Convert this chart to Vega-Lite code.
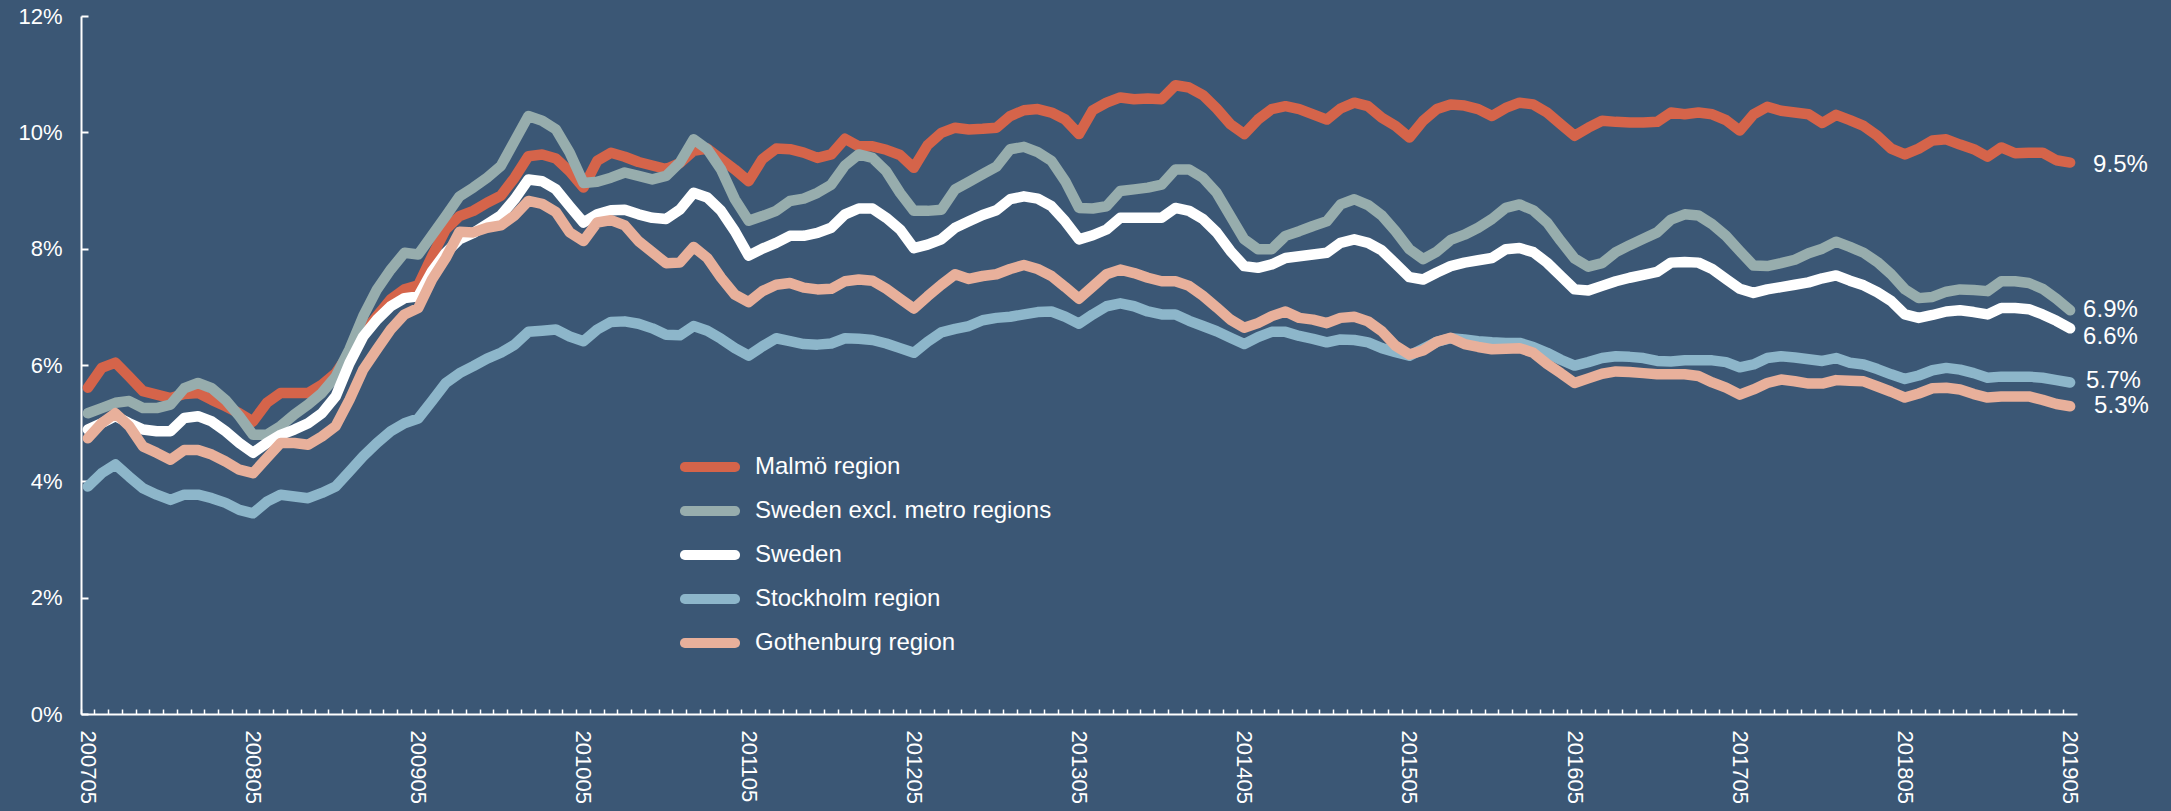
{
"$schema":"https://vega.github.io/schema/vega-lite/v6.json",
"width":1996,"height":698,
"autosize":{"type":"none"},
"padding":{"left":81,"top":16,"right":94,"bottom":97},
"background":"#3B5775",
"config":{"view":{"stroke":null},"font":"Liberation Sans"},
"data":{"values":[
{"m":"200705","s":"Malmö region","v":0.0561},{"m":"200706","s":"Malmö region","v":0.0595},{"m":"200707","s":"Malmö region","v":0.0604},{"m":"200708","s":"Malmö region","v":0.058},{"m":"200709","s":"Malmö region","v":0.0555},{"m":"200710","s":"Malmö region","v":0.0549},{"m":"200711","s":"Malmö region","v":0.0543},{"m":"200712","s":"Malmö region","v":0.055},
{"m":"200801","s":"Malmö region","v":0.0552},{"m":"200802","s":"Malmö region","v":0.054},{"m":"200803","s":"Malmö region","v":0.0529},{"m":"200804","s":"Malmö region","v":0.0517},{"m":"200805","s":"Malmö region","v":0.0503},{"m":"200806","s":"Malmö region","v":0.0535},{"m":"200807","s":"Malmö region","v":0.0552},{"m":"200808","s":"Malmö region","v":0.0552},{"m":"200809","s":"Malmö region","v":0.0552},{"m":"200810","s":"Malmö region","v":0.0566},{"m":"200811","s":"Malmö region","v":0.0586},{"m":"200812","s":"Malmö region","v":0.062},
{"m":"200901","s":"Malmö region","v":0.0655},{"m":"200902","s":"Malmö region","v":0.0684},{"m":"200903","s":"Malmö region","v":0.0713},{"m":"200904","s":"Malmö region","v":0.073},{"m":"200905","s":"Malmö region","v":0.0737},{"m":"200906","s":"Malmö region","v":0.0787},{"m":"200907","s":"Malmö region","v":0.0833},{"m":"200908","s":"Malmö region","v":0.0856},{"m":"200909","s":"Malmö region","v":0.0865},{"m":"200910","s":"Malmö region","v":0.0879},{"m":"200911","s":"Malmö region","v":0.0891},{"m":"200912","s":"Malmö region","v":0.0922},
{"m":"201001","s":"Malmö region","v":0.0959},{"m":"201002","s":"Malmö region","v":0.0962},{"m":"201003","s":"Malmö region","v":0.0955},{"m":"201004","s":"Malmö region","v":0.0933},{"m":"201005","s":"Malmö region","v":0.0905},{"m":"201006","s":"Malmö region","v":0.0951},{"m":"201007","s":"Malmö region","v":0.0965},{"m":"201008","s":"Malmö region","v":0.0958},{"m":"201009","s":"Malmö region","v":0.0949},{"m":"201010","s":"Malmö region","v":0.0943},{"m":"201011","s":"Malmö region","v":0.0937},{"m":"201012","s":"Malmö region","v":0.0947},
{"m":"201101","s":"Malmö region","v":0.0968},{"m":"201102","s":"Malmö region","v":0.0972},{"m":"201103","s":"Malmö region","v":0.0954},{"m":"201104","s":"Malmö region","v":0.0936},{"m":"201105","s":"Malmö region","v":0.0916},{"m":"201106","s":"Malmö region","v":0.0954},{"m":"201107","s":"Malmö region","v":0.0972},{"m":"201108","s":"Malmö region","v":0.0971},{"m":"201109","s":"Malmö region","v":0.0965},{"m":"201110","s":"Malmö region","v":0.0956},{"m":"201111","s":"Malmö region","v":0.0962},{"m":"201112","s":"Malmö region","v":0.0989},
{"m":"201201","s":"Malmö region","v":0.0976},{"m":"201202","s":"Malmö region","v":0.0976},{"m":"201203","s":"Malmö region","v":0.097},{"m":"201204","s":"Malmö region","v":0.0961},{"m":"201205","s":"Malmö region","v":0.0939},{"m":"201206","s":"Malmö region","v":0.0978},{"m":"201207","s":"Malmö region","v":0.0999},{"m":"201208","s":"Malmö region","v":0.1008},{"m":"201209","s":"Malmö region","v":0.1005},{"m":"201210","s":"Malmö region","v":0.1006},{"m":"201211","s":"Malmö region","v":0.1008},{"m":"201212","s":"Malmö region","v":0.1028},
{"m":"201301","s":"Malmö region","v":0.1038},{"m":"201302","s":"Malmö region","v":0.104},{"m":"201303","s":"Malmö region","v":0.1034},{"m":"201304","s":"Malmö region","v":0.1022},{"m":"201305","s":"Malmö region","v":0.0997},{"m":"201306","s":"Malmö region","v":0.1038},{"m":"201307","s":"Malmö region","v":0.1051},{"m":"201308","s":"Malmö region","v":0.106},{"m":"201309","s":"Malmö region","v":0.1057},{"m":"201310","s":"Malmö region","v":0.1058},{"m":"201311","s":"Malmö region","v":0.1057},{"m":"201312","s":"Malmö region","v":0.1081},
{"m":"201401","s":"Malmö region","v":0.1077},{"m":"201402","s":"Malmö region","v":0.1064},{"m":"201403","s":"Malmö region","v":0.1041},{"m":"201404","s":"Malmö region","v":0.1014},{"m":"201405","s":"Malmö region","v":0.0997},{"m":"201406","s":"Malmö region","v":0.1022},{"m":"201407","s":"Malmö region","v":0.104},{"m":"201408","s":"Malmö region","v":0.1045},{"m":"201409","s":"Malmö region","v":0.104},{"m":"201410","s":"Malmö region","v":0.1031},{"m":"201411","s":"Malmö region","v":0.1022},{"m":"201412","s":"Malmö region","v":0.1041},
{"m":"201501","s":"Malmö region","v":0.1051},{"m":"201502","s":"Malmö region","v":0.1045},{"m":"201503","s":"Malmö region","v":0.1025},{"m":"201504","s":"Malmö region","v":0.1011},{"m":"201505","s":"Malmö region","v":0.0991},{"m":"201506","s":"Malmö region","v":0.102},{"m":"201507","s":"Malmö region","v":0.104},{"m":"201508","s":"Malmö region","v":0.1048},{"m":"201509","s":"Malmö region","v":0.1046},{"m":"201510","s":"Malmö region","v":0.104},{"m":"201511","s":"Malmö region","v":0.1028},{"m":"201512","s":"Malmö region","v":0.1042},
{"m":"201601","s":"Malmö region","v":0.1051},{"m":"201602","s":"Malmö region","v":0.1048},{"m":"201603","s":"Malmö region","v":0.1034},{"m":"201604","s":"Malmö region","v":0.1014},{"m":"201605","s":"Malmö region","v":0.0994},{"m":"201606","s":"Malmö region","v":0.1008},{"m":"201607","s":"Malmö region","v":0.102},{"m":"201608","s":"Malmö region","v":0.1018},{"m":"201609","s":"Malmö region","v":0.1017},{"m":"201610","s":"Malmö region","v":0.1017},{"m":"201611","s":"Malmö region","v":0.1018},{"m":"201612","s":"Malmö region","v":0.1034},
{"m":"201701","s":"Malmö region","v":0.1031},{"m":"201702","s":"Malmö region","v":0.1034},{"m":"201703","s":"Malmö region","v":0.1031},{"m":"201704","s":"Malmö region","v":0.1021},{"m":"201705","s":"Malmö region","v":0.1003},{"m":"201706","s":"Malmö region","v":0.1031},{"m":"201707","s":"Malmö region","v":0.1044},{"m":"201708","s":"Malmö region","v":0.1037},{"m":"201709","s":"Malmö region","v":0.1034},{"m":"201710","s":"Malmö region","v":0.1031},{"m":"201711","s":"Malmö region","v":0.1016},{"m":"201712","s":"Malmö region","v":0.103},
{"m":"201801","s":"Malmö region","v":0.1021},{"m":"201802","s":"Malmö region","v":0.1011},{"m":"201803","s":"Malmö region","v":0.0994},{"m":"201804","s":"Malmö region","v":0.0972},{"m":"201805","s":"Malmö region","v":0.0962},{"m":"201806","s":"Malmö region","v":0.0972},{"m":"201807","s":"Malmö region","v":0.0986},{"m":"201808","s":"Malmö region","v":0.0988},{"m":"201809","s":"Malmö region","v":0.0979},{"m":"201810","s":"Malmö region","v":0.0971},{"m":"201811","s":"Malmö region","v":0.0958},{"m":"201812","s":"Malmö region","v":0.0974},
{"m":"201901","s":"Malmö region","v":0.0964},{"m":"201902","s":"Malmö region","v":0.0965},{"m":"201903","s":"Malmö region","v":0.0965},{"m":"201904","s":"Malmö region","v":0.0952},{"m":"201905","s":"Malmö region","v":0.0948},

{"m":"200705","s":"Sweden excl. metro regions","v":0.0517},{"m":"200706","s":"Sweden excl. metro regions","v":0.0526},{"m":"200707","s":"Sweden excl. metro regions","v":0.0535},{"m":"200708","s":"Sweden excl. metro regions","v":0.0538},{"m":"200709","s":"Sweden excl. metro regions","v":0.0526},{"m":"200710","s":"Sweden excl. metro regions","v":0.0526},{"m":"200711","s":"Sweden excl. metro regions","v":0.0532},{"m":"200712","s":"Sweden excl. metro regions","v":0.056},
{"m":"200801","s":"Sweden excl. metro regions","v":0.0569},{"m":"200802","s":"Sweden excl. metro regions","v":0.056},{"m":"200803","s":"Sweden excl. metro regions","v":0.054},{"m":"200804","s":"Sweden excl. metro regions","v":0.0512},{"m":"200805","s":"Sweden excl. metro regions","v":0.048},{"m":"200806","s":"Sweden excl. metro regions","v":0.048},{"m":"200807","s":"Sweden excl. metro regions","v":0.0495},{"m":"200808","s":"Sweden excl. metro regions","v":0.0515},{"m":"200809","s":"Sweden excl. metro regions","v":0.0532},{"m":"200810","s":"Sweden excl. metro regions","v":0.0552},{"m":"200811","s":"Sweden excl. metro regions","v":0.058},{"m":"200812","s":"Sweden excl. metro regions","v":0.0627},
{"m":"200901","s":"Sweden excl. metro regions","v":0.0684},{"m":"200902","s":"Sweden excl. metro regions","v":0.073},{"m":"200903","s":"Sweden excl. metro regions","v":0.0764},{"m":"200904","s":"Sweden excl. metro regions","v":0.0793},{"m":"200905","s":"Sweden excl. metro regions","v":0.079},{"m":"200906","s":"Sweden excl. metro regions","v":0.0823},{"m":"200907","s":"Sweden excl. metro regions","v":0.0856},{"m":"200908","s":"Sweden excl. metro regions","v":0.089},{"m":"200909","s":"Sweden excl. metro regions","v":0.0905},{"m":"200910","s":"Sweden excl. metro regions","v":0.0922},{"m":"200911","s":"Sweden excl. metro regions","v":0.0942},{"m":"200912","s":"Sweden excl. metro regions","v":0.0985},
{"m":"201001","s":"Sweden excl. metro regions","v":0.1028},{"m":"201002","s":"Sweden excl. metro regions","v":0.102},{"m":"201003","s":"Sweden excl. metro regions","v":0.1005},{"m":"201004","s":"Sweden excl. metro regions","v":0.0965},{"m":"201005","s":"Sweden excl. metro regions","v":0.0913},{"m":"201006","s":"Sweden excl. metro regions","v":0.0915},{"m":"201007","s":"Sweden excl. metro regions","v":0.0922},{"m":"201008","s":"Sweden excl. metro regions","v":0.0931},{"m":"201009","s":"Sweden excl. metro regions","v":0.0925},{"m":"201010","s":"Sweden excl. metro regions","v":0.0919},{"m":"201011","s":"Sweden excl. metro regions","v":0.0925},{"m":"201012","s":"Sweden excl. metro regions","v":0.0948},
{"m":"201101","s":"Sweden excl. metro regions","v":0.0988},{"m":"201102","s":"Sweden excl. metro regions","v":0.0971},{"m":"201103","s":"Sweden excl. metro regions","v":0.0936},{"m":"201104","s":"Sweden excl. metro regions","v":0.0885},{"m":"201105","s":"Sweden excl. metro regions","v":0.0848},{"m":"201106","s":"Sweden excl. metro regions","v":0.0856},{"m":"201107","s":"Sweden excl. metro regions","v":0.0865},{"m":"201108","s":"Sweden excl. metro regions","v":0.0882},{"m":"201109","s":"Sweden excl. metro regions","v":0.0886},{"m":"201110","s":"Sweden excl. metro regions","v":0.0896},{"m":"201111","s":"Sweden excl. metro regions","v":0.091},{"m":"201112","s":"Sweden excl. metro regions","v":0.0943},
{"m":"201201","s":"Sweden excl. metro regions","v":0.0962},{"m":"201202","s":"Sweden excl. metro regions","v":0.0956},{"m":"201203","s":"Sweden excl. metro regions","v":0.0933},{"m":"201204","s":"Sweden excl. metro regions","v":0.0896},{"m":"201205","s":"Sweden excl. metro regions","v":0.0865},{"m":"201206","s":"Sweden excl. metro regions","v":0.0865},{"m":"201207","s":"Sweden excl. metro regions","v":0.0867},{"m":"201208","s":"Sweden excl. metro regions","v":0.0902},{"m":"201209","s":"Sweden excl. metro regions","v":0.0915},{"m":"201210","s":"Sweden excl. metro regions","v":0.0928},{"m":"201211","s":"Sweden excl. metro regions","v":0.0941},{"m":"201212","s":"Sweden excl. metro regions","v":0.0971},
{"m":"201301","s":"Sweden excl. metro regions","v":0.0975},{"m":"201302","s":"Sweden excl. metro regions","v":0.0966},{"m":"201303","s":"Sweden excl. metro regions","v":0.0951},{"m":"201304","s":"Sweden excl. metro regions","v":0.0916},{"m":"201305","s":"Sweden excl. metro regions","v":0.087},{"m":"201306","s":"Sweden excl. metro regions","v":0.0869},{"m":"201307","s":"Sweden excl. metro regions","v":0.0873},{"m":"201308","s":"Sweden excl. metro regions","v":0.0899},{"m":"201309","s":"Sweden excl. metro regions","v":0.0902},{"m":"201310","s":"Sweden excl. metro regions","v":0.0905},{"m":"201311","s":"Sweden excl. metro regions","v":0.091},{"m":"201312","s":"Sweden excl. metro regions","v":0.0936},
{"m":"201401","s":"Sweden excl. metro regions","v":0.0936},{"m":"201402","s":"Sweden excl. metro regions","v":0.0922},{"m":"201403","s":"Sweden excl. metro regions","v":0.0896},{"m":"201404","s":"Sweden excl. metro regions","v":0.0856},{"m":"201405","s":"Sweden excl. metro regions","v":0.0816},{"m":"201406","s":"Sweden excl. metro regions","v":0.0799},{"m":"201407","s":"Sweden excl. metro regions","v":0.0799},{"m":"201408","s":"Sweden excl. metro regions","v":0.0822},{"m":"201409","s":"Sweden excl. metro regions","v":0.083},{"m":"201410","s":"Sweden excl. metro regions","v":0.0839},{"m":"201411","s":"Sweden excl. metro regions","v":0.0847},{"m":"201412","s":"Sweden excl. metro regions","v":0.0876},
{"m":"201501","s":"Sweden excl. metro regions","v":0.0885},{"m":"201502","s":"Sweden excl. metro regions","v":0.0875},{"m":"201503","s":"Sweden excl. metro regions","v":0.0857},{"m":"201504","s":"Sweden excl. metro regions","v":0.083},{"m":"201505","s":"Sweden excl. metro regions","v":0.0799},{"m":"201506","s":"Sweden excl. metro regions","v":0.0782},{"m":"201507","s":"Sweden excl. metro regions","v":0.0795},{"m":"201508","s":"Sweden excl. metro regions","v":0.0815},{"m":"201509","s":"Sweden excl. metro regions","v":0.0824},{"m":"201510","s":"Sweden excl. metro regions","v":0.0836},{"m":"201511","s":"Sweden excl. metro regions","v":0.0851},{"m":"201512","s":"Sweden excl. metro regions","v":0.087},
{"m":"201601","s":"Sweden excl. metro regions","v":0.0876},{"m":"201602","s":"Sweden excl. metro regions","v":0.0866},{"m":"201603","s":"Sweden excl. metro regions","v":0.0845},{"m":"201604","s":"Sweden excl. metro regions","v":0.0813},{"m":"201605","s":"Sweden excl. metro regions","v":0.0783},{"m":"201606","s":"Sweden excl. metro regions","v":0.0769},{"m":"201607","s":"Sweden excl. metro regions","v":0.0775},{"m":"201608","s":"Sweden excl. metro regions","v":0.0794},{"m":"201609","s":"Sweden excl. metro regions","v":0.0806},{"m":"201610","s":"Sweden excl. metro regions","v":0.0817},{"m":"201611","s":"Sweden excl. metro regions","v":0.0828},{"m":"201612","s":"Sweden excl. metro regions","v":0.085},
{"m":"201701","s":"Sweden excl. metro regions","v":0.0859},{"m":"201702","s":"Sweden excl. metro regions","v":0.0857},{"m":"201703","s":"Sweden excl. metro regions","v":0.0842},{"m":"201704","s":"Sweden excl. metro regions","v":0.0822},{"m":"201705","s":"Sweden excl. metro regions","v":0.0796},{"m":"201706","s":"Sweden excl. metro regions","v":0.0771},{"m":"201707","s":"Sweden excl. metro regions","v":0.077},{"m":"201708","s":"Sweden excl. metro regions","v":0.0775},{"m":"201709","s":"Sweden excl. metro regions","v":0.0781},{"m":"201710","s":"Sweden excl. metro regions","v":0.0792},{"m":"201711","s":"Sweden excl. metro regions","v":0.08},{"m":"201712","s":"Sweden excl. metro regions","v":0.0812},
{"m":"201801","s":"Sweden excl. metro regions","v":0.0803},{"m":"201802","s":"Sweden excl. metro regions","v":0.0793},{"m":"201803","s":"Sweden excl. metro regions","v":0.0777},{"m":"201804","s":"Sweden excl. metro regions","v":0.0756},{"m":"201805","s":"Sweden excl. metro regions","v":0.073},{"m":"201806","s":"Sweden excl. metro regions","v":0.0715},{"m":"201807","s":"Sweden excl. metro regions","v":0.0717},{"m":"201808","s":"Sweden excl. metro regions","v":0.0726},{"m":"201809","s":"Sweden excl. metro regions","v":0.073},{"m":"201810","s":"Sweden excl. metro regions","v":0.0729},{"m":"201811","s":"Sweden excl. metro regions","v":0.0727},{"m":"201812","s":"Sweden excl. metro regions","v":0.0744},
{"m":"201901","s":"Sweden excl. metro regions","v":0.0744},{"m":"201902","s":"Sweden excl. metro regions","v":0.0741},{"m":"201903","s":"Sweden excl. metro regions","v":0.0731},{"m":"201904","s":"Sweden excl. metro regions","v":0.0714},{"m":"201905","s":"Sweden excl. metro regions","v":0.0694},

{"m":"200705","s":"Sweden","v":0.0489},{"m":"200706","s":"Sweden","v":0.05},{"m":"200707","s":"Sweden","v":0.0512},{"m":"200708","s":"Sweden","v":0.05},{"m":"200709","s":"Sweden","v":0.0489},{"m":"200710","s":"Sweden","v":0.0486},{"m":"200711","s":"Sweden","v":0.0486},{"m":"200712","s":"Sweden","v":0.0509},
{"m":"200801","s":"Sweden","v":0.0512},{"m":"200802","s":"Sweden","v":0.0503},{"m":"200803","s":"Sweden","v":0.0486},{"m":"200804","s":"Sweden","v":0.0466},{"m":"200805","s":"Sweden","v":0.0449},{"m":"200806","s":"Sweden","v":0.0466},{"m":"200807","s":"Sweden","v":0.048},{"m":"200808","s":"Sweden","v":0.0489},{"m":"200809","s":"Sweden","v":0.05},{"m":"200810","s":"Sweden","v":0.0517},{"m":"200811","s":"Sweden","v":0.0546},{"m":"200812","s":"Sweden","v":0.0603},
{"m":"200901","s":"Sweden","v":0.0649},{"m":"200902","s":"Sweden","v":0.0678},{"m":"200903","s":"Sweden","v":0.0701},{"m":"200904","s":"Sweden","v":0.0715},{"m":"200905","s":"Sweden","v":0.0718},{"m":"200906","s":"Sweden","v":0.0761},{"m":"200907","s":"Sweden","v":0.0793},{"m":"200908","s":"Sweden","v":0.0816},{"m":"200909","s":"Sweden","v":0.0827},{"m":"200910","s":"Sweden","v":0.0842},{"m":"200911","s":"Sweden","v":0.0857},{"m":"200912","s":"Sweden","v":0.0885},
{"m":"201001","s":"Sweden","v":0.0919},{"m":"201002","s":"Sweden","v":0.0916},{"m":"201003","s":"Sweden","v":0.0902},{"m":"201004","s":"Sweden","v":0.0873},{"m":"201005","s":"Sweden","v":0.0845},{"m":"201006","s":"Sweden","v":0.0859},{"m":"201007","s":"Sweden","v":0.0866},{"m":"201008","s":"Sweden","v":0.0867},{"m":"201009","s":"Sweden","v":0.0859},{"m":"201010","s":"Sweden","v":0.0853},{"m":"201011","s":"Sweden","v":0.0851},{"m":"201012","s":"Sweden","v":0.0867},
{"m":"201101","s":"Sweden","v":0.0896},{"m":"201102","s":"Sweden","v":0.0888},{"m":"201103","s":"Sweden","v":0.0865},{"m":"201104","s":"Sweden","v":0.083},{"m":"201105","s":"Sweden","v":0.0788},{"m":"201106","s":"Sweden","v":0.08},{"m":"201107","s":"Sweden","v":0.081},{"m":"201108","s":"Sweden","v":0.0822},{"m":"201109","s":"Sweden","v":0.0822},{"m":"201110","s":"Sweden","v":0.0827},{"m":"201111","s":"Sweden","v":0.0836},{"m":"201112","s":"Sweden","v":0.0859},
{"m":"201201","s":"Sweden","v":0.0869},{"m":"201202","s":"Sweden","v":0.0869},{"m":"201203","s":"Sweden","v":0.0853},{"m":"201204","s":"Sweden","v":0.0833},{"m":"201205","s":"Sweden","v":0.0801},{"m":"201206","s":"Sweden","v":0.0807},{"m":"201207","s":"Sweden","v":0.0816},{"m":"201208","s":"Sweden","v":0.0836},{"m":"201209","s":"Sweden","v":0.0847},{"m":"201210","s":"Sweden","v":0.0858},{"m":"201211","s":"Sweden","v":0.0866},{"m":"201212","s":"Sweden","v":0.0885},
{"m":"201301","s":"Sweden","v":0.089},{"m":"201302","s":"Sweden","v":0.0886},{"m":"201303","s":"Sweden","v":0.0873},{"m":"201304","s":"Sweden","v":0.0847},{"m":"201305","s":"Sweden","v":0.0816},{"m":"201306","s":"Sweden","v":0.0823},{"m":"201307","s":"Sweden","v":0.0833},{"m":"201308","s":"Sweden","v":0.0853},{"m":"201309","s":"Sweden","v":0.0853},{"m":"201310","s":"Sweden","v":0.0853},{"m":"201311","s":"Sweden","v":0.0853},{"m":"201312","s":"Sweden","v":0.087},
{"m":"201401","s":"Sweden","v":0.0865},{"m":"201402","s":"Sweden","v":0.0851},{"m":"201403","s":"Sweden","v":0.0828},{"m":"201404","s":"Sweden","v":0.0796},{"m":"201405","s":"Sweden","v":0.077},{"m":"201406","s":"Sweden","v":0.0767},{"m":"201407","s":"Sweden","v":0.0773},{"m":"201408","s":"Sweden","v":0.0784},{"m":"201409","s":"Sweden","v":0.0787},{"m":"201410","s":"Sweden","v":0.079},{"m":"201411","s":"Sweden","v":0.0793},{"m":"201412","s":"Sweden","v":0.081},
{"m":"201501","s":"Sweden","v":0.0816},{"m":"201502","s":"Sweden","v":0.081},{"m":"201503","s":"Sweden","v":0.0797},{"m":"201504","s":"Sweden","v":0.0774},{"m":"201505","s":"Sweden","v":0.0751},{"m":"201506","s":"Sweden","v":0.0747},{"m":"201507","s":"Sweden","v":0.0759},{"m":"201508","s":"Sweden","v":0.077},{"m":"201509","s":"Sweden","v":0.0776},{"m":"201510","s":"Sweden","v":0.078},{"m":"201511","s":"Sweden","v":0.0784},{"m":"201512","s":"Sweden","v":0.0799},
{"m":"201601","s":"Sweden","v":0.0801},{"m":"201602","s":"Sweden","v":0.0794},{"m":"201603","s":"Sweden","v":0.0776},{"m":"201604","s":"Sweden","v":0.0753},{"m":"201605","s":"Sweden","v":0.073},{"m":"201606","s":"Sweden","v":0.0728},{"m":"201607","s":"Sweden","v":0.0736},{"m":"201608","s":"Sweden","v":0.0744},{"m":"201609","s":"Sweden","v":0.075},{"m":"201610","s":"Sweden","v":0.0755},{"m":"201611","s":"Sweden","v":0.076},{"m":"201612","s":"Sweden","v":0.0776},
{"m":"201701","s":"Sweden","v":0.0777},{"m":"201702","s":"Sweden","v":0.0776},{"m":"201703","s":"Sweden","v":0.0765},{"m":"201704","s":"Sweden","v":0.0748},{"m":"201705","s":"Sweden","v":0.0731},{"m":"201706","s":"Sweden","v":0.0724},{"m":"201707","s":"Sweden","v":0.073},{"m":"201708","s":"Sweden","v":0.0734},{"m":"201709","s":"Sweden","v":0.0738},{"m":"201710","s":"Sweden","v":0.0742},{"m":"201711","s":"Sweden","v":0.0749},{"m":"201712","s":"Sweden","v":0.0754},
{"m":"201801","s":"Sweden","v":0.0745},{"m":"201802","s":"Sweden","v":0.0737},{"m":"201803","s":"Sweden","v":0.0725},{"m":"201804","s":"Sweden","v":0.071},{"m":"201805","s":"Sweden","v":0.0687},{"m":"201806","s":"Sweden","v":0.0681},{"m":"201807","s":"Sweden","v":0.0686},{"m":"201808","s":"Sweden","v":0.0692},{"m":"201809","s":"Sweden","v":0.0694},{"m":"201810","s":"Sweden","v":0.0691},{"m":"201811","s":"Sweden","v":0.0687},{"m":"201812","s":"Sweden","v":0.0698},
{"m":"201901","s":"Sweden","v":0.0698},{"m":"201902","s":"Sweden","v":0.0696},{"m":"201903","s":"Sweden","v":0.0687},{"m":"201904","s":"Sweden","v":0.0676},{"m":"201905","s":"Sweden","v":0.0663},

{"m":"200705","s":"Stockholm region","v":0.0391},{"m":"200706","s":"Stockholm region","v":0.0414},{"m":"200707","s":"Stockholm region","v":0.0429},{"m":"200708","s":"Stockholm region","v":0.0408},{"m":"200709","s":"Stockholm region","v":0.0388},{"m":"200710","s":"Stockholm region","v":0.0377},{"m":"200711","s":"Stockholm region","v":0.0368},{"m":"200712","s":"Stockholm region","v":0.0377},
{"m":"200801","s":"Stockholm region","v":0.0377},{"m":"200802","s":"Stockholm region","v":0.0371},{"m":"200803","s":"Stockholm region","v":0.0363},{"m":"200804","s":"Stockholm region","v":0.0351},{"m":"200805","s":"Stockholm region","v":0.0345},{"m":"200806","s":"Stockholm region","v":0.0365},{"m":"200807","s":"Stockholm region","v":0.0377},{"m":"200808","s":"Stockholm region","v":0.0374},{"m":"200809","s":"Stockholm region","v":0.0371},{"m":"200810","s":"Stockholm region","v":0.038},{"m":"200811","s":"Stockholm region","v":0.0391},{"m":"200812","s":"Stockholm region","v":0.0417},
{"m":"200901","s":"Stockholm region","v":0.0443},{"m":"200902","s":"Stockholm region","v":0.0466},{"m":"200903","s":"Stockholm region","v":0.0486},{"m":"200904","s":"Stockholm region","v":0.05},{"m":"200905","s":"Stockholm region","v":0.0508},{"m":"200906","s":"Stockholm region","v":0.0538},{"m":"200907","s":"Stockholm region","v":0.0569},{"m":"200908","s":"Stockholm region","v":0.0586},{"m":"200909","s":"Stockholm region","v":0.0598},{"m":"200910","s":"Stockholm region","v":0.0611},{"m":"200911","s":"Stockholm region","v":0.0621},{"m":"200912","s":"Stockholm region","v":0.0635},
{"m":"201001","s":"Stockholm region","v":0.0657},{"m":"201002","s":"Stockholm region","v":0.0659},{"m":"201003","s":"Stockholm region","v":0.0661},{"m":"201004","s":"Stockholm region","v":0.0649},{"m":"201005","s":"Stockholm region","v":0.0641},{"m":"201006","s":"Stockholm region","v":0.0661},{"m":"201007","s":"Stockholm region","v":0.0674},{"m":"201008","s":"Stockholm region","v":0.0675},{"m":"201009","s":"Stockholm region","v":0.0671},{"m":"201010","s":"Stockholm region","v":0.0663},{"m":"201011","s":"Stockholm region","v":0.0652},{"m":"201012","s":"Stockholm region","v":0.0651},
{"m":"201101","s":"Stockholm region","v":0.0667},{"m":"201102","s":"Stockholm region","v":0.0659},{"m":"201103","s":"Stockholm region","v":0.0645},{"m":"201104","s":"Stockholm region","v":0.0629},{"m":"201105","s":"Stockholm region","v":0.0616},{"m":"201106","s":"Stockholm region","v":0.0632},{"m":"201107","s":"Stockholm region","v":0.0646},{"m":"201108","s":"Stockholm region","v":0.0641},{"m":"201109","s":"Stockholm region","v":0.0636},{"m":"201110","s":"Stockholm region","v":0.0635},{"m":"201111","s":"Stockholm region","v":0.0637},{"m":"201112","s":"Stockholm region","v":0.0646},
{"m":"201201","s":"Stockholm region","v":0.0645},{"m":"201202","s":"Stockholm region","v":0.0643},{"m":"201203","s":"Stockholm region","v":0.0637},{"m":"201204","s":"Stockholm region","v":0.0629},{"m":"201205","s":"Stockholm region","v":0.0621},{"m":"201206","s":"Stockholm region","v":0.064},{"m":"201207","s":"Stockholm region","v":0.0656},{"m":"201208","s":"Stockholm region","v":0.0662},{"m":"201209","s":"Stockholm region","v":0.0667},{"m":"201210","s":"Stockholm region","v":0.0677},{"m":"201211","s":"Stockholm region","v":0.0681},{"m":"201212","s":"Stockholm region","v":0.0683},
{"m":"201301","s":"Stockholm region","v":0.0687},{"m":"201302","s":"Stockholm region","v":0.0691},{"m":"201303","s":"Stockholm region","v":0.0692},{"m":"201304","s":"Stockholm region","v":0.0683},{"m":"201305","s":"Stockholm region","v":0.0671},{"m":"201306","s":"Stockholm region","v":0.0687},{"m":"201307","s":"Stockholm region","v":0.0701},{"m":"201308","s":"Stockholm region","v":0.0706},{"m":"201309","s":"Stockholm region","v":0.0701},{"m":"201310","s":"Stockholm region","v":0.0692},{"m":"201311","s":"Stockholm region","v":0.0687},{"m":"201312","s":"Stockholm region","v":0.0687},
{"m":"201401","s":"Stockholm region","v":0.0676},{"m":"201402","s":"Stockholm region","v":0.0667},{"m":"201403","s":"Stockholm region","v":0.0658},{"m":"201404","s":"Stockholm region","v":0.0647},{"m":"201405","s":"Stockholm region","v":0.0636},{"m":"201406","s":"Stockholm region","v":0.0648},{"m":"201407","s":"Stockholm region","v":0.0657},{"m":"201408","s":"Stockholm region","v":0.0657},{"m":"201409","s":"Stockholm region","v":0.065},{"m":"201410","s":"Stockholm region","v":0.0645},{"m":"201411","s":"Stockholm region","v":0.0639},{"m":"201412","s":"Stockholm region","v":0.0644},
{"m":"201501","s":"Stockholm region","v":0.0643},{"m":"201502","s":"Stockholm region","v":0.0639},{"m":"201503","s":"Stockholm region","v":0.0629},{"m":"201504","s":"Stockholm region","v":0.0622},{"m":"201505","s":"Stockholm region","v":0.0616},{"m":"201506","s":"Stockholm region","v":0.0628},{"m":"201507","s":"Stockholm region","v":0.064},{"m":"201508","s":"Stockholm region","v":0.0646},{"m":"201509","s":"Stockholm region","v":0.0644},{"m":"201510","s":"Stockholm region","v":0.0641},{"m":"201511","s":"Stockholm region","v":0.0639},{"m":"201512","s":"Stockholm region","v":0.0638},
{"m":"201601","s":"Stockholm region","v":0.0638},{"m":"201602","s":"Stockholm region","v":0.0631},{"m":"201603","s":"Stockholm region","v":0.0621},{"m":"201604","s":"Stockholm region","v":0.0609},{"m":"201605","s":"Stockholm region","v":0.0599},{"m":"201606","s":"Stockholm region","v":0.0605},{"m":"201607","s":"Stockholm region","v":0.0612},{"m":"201608","s":"Stockholm region","v":0.0615},{"m":"201609","s":"Stockholm region","v":0.0614},{"m":"201610","s":"Stockholm region","v":0.0612},{"m":"201611","s":"Stockholm region","v":0.0607},{"m":"201612","s":"Stockholm region","v":0.0606},
{"m":"201701","s":"Stockholm region","v":0.0608},{"m":"201702","s":"Stockholm region","v":0.0608},{"m":"201703","s":"Stockholm region","v":0.0608},{"m":"201704","s":"Stockholm region","v":0.0605},{"m":"201705","s":"Stockholm region","v":0.0596},{"m":"201706","s":"Stockholm region","v":0.0601},{"m":"201707","s":"Stockholm region","v":0.0612},{"m":"201708","s":"Stockholm region","v":0.0615},{"m":"201709","s":"Stockholm region","v":0.0613},{"m":"201710","s":"Stockholm region","v":0.061},{"m":"201711","s":"Stockholm region","v":0.0607},{"m":"201712","s":"Stockholm region","v":0.0612},
{"m":"201801","s":"Stockholm region","v":0.0604},{"m":"201802","s":"Stockholm region","v":0.0601},{"m":"201803","s":"Stockholm region","v":0.0593},{"m":"201804","s":"Stockholm region","v":0.0584},{"m":"201805","s":"Stockholm region","v":0.0576},{"m":"201806","s":"Stockholm region","v":0.0582},{"m":"201807","s":"Stockholm region","v":0.0591},{"m":"201808","s":"Stockholm region","v":0.0595},{"m":"201809","s":"Stockholm region","v":0.0592},{"m":"201810","s":"Stockholm region","v":0.0586},{"m":"201811","s":"Stockholm region","v":0.0578},{"m":"201812","s":"Stockholm region","v":0.058},
{"m":"201901","s":"Stockholm region","v":0.058},{"m":"201902","s":"Stockholm region","v":0.058},{"m":"201903","s":"Stockholm region","v":0.0578},{"m":"201904","s":"Stockholm region","v":0.0574},{"m":"201905","s":"Stockholm region","v":0.057},

{"m":"200705","s":"Gothenburg region","v":0.0474},{"m":"200706","s":"Gothenburg region","v":0.05},{"m":"200707","s":"Gothenburg region","v":0.0517},{"m":"200708","s":"Gothenburg region","v":0.0495},{"m":"200709","s":"Gothenburg region","v":0.046},{"m":"200710","s":"Gothenburg region","v":0.0449},{"m":"200711","s":"Gothenburg region","v":0.0437},{"m":"200712","s":"Gothenburg region","v":0.0454},
{"m":"200801","s":"Gothenburg region","v":0.0454},{"m":"200802","s":"Gothenburg region","v":0.0446},{"m":"200803","s":"Gothenburg region","v":0.0434},{"m":"200804","s":"Gothenburg region","v":0.042},{"m":"200805","s":"Gothenburg region","v":0.0414},{"m":"200806","s":"Gothenburg region","v":0.044},{"m":"200807","s":"Gothenburg region","v":0.0466},{"m":"200808","s":"Gothenburg region","v":0.0466},{"m":"200809","s":"Gothenburg region","v":0.0463},{"m":"200810","s":"Gothenburg region","v":0.0477},{"m":"200811","s":"Gothenburg region","v":0.0495},{"m":"200812","s":"Gothenburg region","v":0.054},
{"m":"200901","s":"Gothenburg region","v":0.0592},{"m":"200902","s":"Gothenburg region","v":0.0627},{"m":"200903","s":"Gothenburg region","v":0.0661},{"m":"200904","s":"Gothenburg region","v":0.0687},{"m":"200905","s":"Gothenburg region","v":0.0698},{"m":"200906","s":"Gothenburg region","v":0.0747},{"m":"200907","s":"Gothenburg region","v":0.0784},{"m":"200908","s":"Gothenburg region","v":0.0829},{"m":"200909","s":"Gothenburg region","v":0.0828},{"m":"200910","s":"Gothenburg region","v":0.0836},{"m":"200911","s":"Gothenburg region","v":0.084},{"m":"200912","s":"Gothenburg region","v":0.0857},
{"m":"201001","s":"Gothenburg region","v":0.0882},{"m":"201002","s":"Gothenburg region","v":0.0877},{"m":"201003","s":"Gothenburg region","v":0.0863},{"m":"201004","s":"Gothenburg region","v":0.0828},{"m":"201005","s":"Gothenburg region","v":0.0813},{"m":"201006","s":"Gothenburg region","v":0.0845},{"m":"201007","s":"Gothenburg region","v":0.0849},{"m":"201008","s":"Gothenburg region","v":0.084},{"m":"201009","s":"Gothenburg region","v":0.0813},{"m":"201010","s":"Gothenburg region","v":0.0794},{"m":"201011","s":"Gothenburg region","v":0.0775},{"m":"201012","s":"Gothenburg region","v":0.0776},
{"m":"201101","s":"Gothenburg region","v":0.0803},{"m":"201102","s":"Gothenburg region","v":0.0784},{"m":"201103","s":"Gothenburg region","v":0.075},{"m":"201104","s":"Gothenburg region","v":0.0721},{"m":"201105","s":"Gothenburg region","v":0.0708},{"m":"201106","s":"Gothenburg region","v":0.0727},{"m":"201107","s":"Gothenburg region","v":0.0738},{"m":"201108","s":"Gothenburg region","v":0.0741},{"m":"201109","s":"Gothenburg region","v":0.0733},{"m":"201110","s":"Gothenburg region","v":0.073},{"m":"201111","s":"Gothenburg region","v":0.0731},{"m":"201112","s":"Gothenburg region","v":0.0744},
{"m":"201201","s":"Gothenburg region","v":0.0747},{"m":"201202","s":"Gothenburg region","v":0.0745},{"m":"201203","s":"Gothenburg region","v":0.0731},{"m":"201204","s":"Gothenburg region","v":0.0714},{"m":"201205","s":"Gothenburg region","v":0.0697},{"m":"201206","s":"Gothenburg region","v":0.0718},{"m":"201207","s":"Gothenburg region","v":0.0738},{"m":"201208","s":"Gothenburg region","v":0.0756},{"m":"201209","s":"Gothenburg region","v":0.0748},{"m":"201210","s":"Gothenburg region","v":0.0753},{"m":"201211","s":"Gothenburg region","v":0.0756},{"m":"201212","s":"Gothenburg region","v":0.0765},
{"m":"201301","s":"Gothenburg region","v":0.0772},{"m":"201302","s":"Gothenburg region","v":0.0765},{"m":"201303","s":"Gothenburg region","v":0.0753},{"m":"201304","s":"Gothenburg region","v":0.0734},{"m":"201305","s":"Gothenburg region","v":0.0714},{"m":"201306","s":"Gothenburg region","v":0.0735},{"m":"201307","s":"Gothenburg region","v":0.0756},{"m":"201308","s":"Gothenburg region","v":0.0764},{"m":"201309","s":"Gothenburg region","v":0.0758},{"m":"201310","s":"Gothenburg region","v":0.075},{"m":"201311","s":"Gothenburg region","v":0.0744},{"m":"201312","s":"Gothenburg region","v":0.0744},
{"m":"201401","s":"Gothenburg region","v":0.0736},{"m":"201402","s":"Gothenburg region","v":0.0719},{"m":"201403","s":"Gothenburg region","v":0.0699},{"m":"201404","s":"Gothenburg region","v":0.0678},{"m":"201405","s":"Gothenburg region","v":0.0664},{"m":"201406","s":"Gothenburg region","v":0.0672},{"m":"201407","s":"Gothenburg region","v":0.0684},{"m":"201408","s":"Gothenburg region","v":0.0692},{"m":"201409","s":"Gothenburg region","v":0.0681},{"m":"201410","s":"Gothenburg region","v":0.0678},{"m":"201411","s":"Gothenburg region","v":0.0672},{"m":"201412","s":"Gothenburg region","v":0.0681},
{"m":"201501","s":"Gothenburg region","v":0.0683},{"m":"201502","s":"Gothenburg region","v":0.0675},{"m":"201503","s":"Gothenburg region","v":0.0658},{"m":"201504","s":"Gothenburg region","v":0.0633},{"m":"201505","s":"Gothenburg region","v":0.0618},{"m":"201506","s":"Gothenburg region","v":0.0625},{"m":"201507","s":"Gothenburg region","v":0.064},{"m":"201508","s":"Gothenburg region","v":0.0647},{"m":"201509","s":"Gothenburg region","v":0.0636},{"m":"201510","s":"Gothenburg region","v":0.0631},{"m":"201511","s":"Gothenburg region","v":0.0627},{"m":"201512","s":"Gothenburg region","v":0.0628},
{"m":"201601","s":"Gothenburg region","v":0.0629},{"m":"201602","s":"Gothenburg region","v":0.0621},{"m":"201603","s":"Gothenburg region","v":0.0602},{"m":"201604","s":"Gothenburg region","v":0.0586},{"m":"201605","s":"Gothenburg region","v":0.0569},{"m":"201606","s":"Gothenburg region","v":0.0577},{"m":"201607","s":"Gothenburg region","v":0.0585},{"m":"201608","s":"Gothenburg region","v":0.0589},{"m":"201609","s":"Gothenburg region","v":0.0588},{"m":"201610","s":"Gothenburg region","v":0.0586},{"m":"201611","s":"Gothenburg region","v":0.0584},{"m":"201612","s":"Gothenburg region","v":0.0584},
{"m":"201701","s":"Gothenburg region","v":0.0584},{"m":"201702","s":"Gothenburg region","v":0.0581},{"m":"201703","s":"Gothenburg region","v":0.057},{"m":"201704","s":"Gothenburg region","v":0.0561},{"m":"201705","s":"Gothenburg region","v":0.0549},{"m":"201706","s":"Gothenburg region","v":0.0558},{"m":"201707","s":"Gothenburg region","v":0.0569},{"m":"201708","s":"Gothenburg region","v":0.0575},{"m":"201709","s":"Gothenburg region","v":0.0572},{"m":"201710","s":"Gothenburg region","v":0.0568},{"m":"201711","s":"Gothenburg region","v":0.0568},{"m":"201712","s":"Gothenburg region","v":0.0574},
{"m":"201801","s":"Gothenburg region","v":0.0573},{"m":"201802","s":"Gothenburg region","v":0.0572},{"m":"201803","s":"Gothenburg region","v":0.0563},{"m":"201804","s":"Gothenburg region","v":0.0554},{"m":"201805","s":"Gothenburg region","v":0.0544},{"m":"201806","s":"Gothenburg region","v":0.0551},{"m":"201807","s":"Gothenburg region","v":0.056},{"m":"201808","s":"Gothenburg region","v":0.0561},{"m":"201809","s":"Gothenburg region","v":0.0558},{"m":"201810","s":"Gothenburg region","v":0.055},{"m":"201811","s":"Gothenburg region","v":0.0544},{"m":"201812","s":"Gothenburg region","v":0.0546},
{"m":"201901","s":"Gothenburg region","v":0.0546},{"m":"201902","s":"Gothenburg region","v":0.0546},{"m":"201903","s":"Gothenburg region","v":0.054},{"m":"201904","s":"Gothenburg region","v":0.0533},{"m":"201905","s":"Gothenburg region","v":0.0529}
]},
"encoding":{
 "x":{"field":"m","type":"ordinal","bandPosition":0.5,
  "scale":{"type":"band","paddingInner":0,"paddingOuter":0},
  "axis":{"title":null,"bandPosition":0,"domainColor":"#FFFFFF","domainWidth":2,"tickColor":"#FFFFFF","tickWidth":1.5,"tickSize":-5,"labelAngle":90,"labelAlign":"left","labelBaseline":"middle","labelPadding":21,"labelFont":"Liberation Sans","labelFontSize":22,"labelColor":"#FFFFFF","labelOverlap":false,"labelBound":false,"labelFlush":false,"labelExpr":"substring(datum.label,4,6)=='05' ? datum.label : ''","grid":false}},
 "y":{"field":"v","type":"quantitative","scale":{"domain":[0,0.12],"nice":false},
  "axis":{"title":null,"values":[0,0.02,0.04,0.06,0.08,0.1,0.12],"format":".0%","domainColor":"#FFFFFF","domainWidth":2,"tickColor":"#FFFFFF","tickWidth":2,"tickSize":-7,"labelPadding":26,"labelFont":"Liberation Sans","labelFontSize":22,"labelColor":"#FFFFFF","labelFlush":false,"grid":false}}
},
"layer":[
 {"mark":{"type":"line","strokeWidth":10.5,"strokeCap":"round","strokeJoin":"round"},
  "encoding":{"color":{"field":"s","type":"nominal","sort":null,
   "scale":{"domain":["Malmö region","Sweden excl. metro regions","Sweden","Stockholm region","Gothenburg region"],"range":["#D5644A","#97ADAD","#FFFFFF","#8DB6CA","#E8B09B"]},
   "legend":{"title":null,"orient":"none","legendX":605,"legendY":427,"symbolType":"M-1.32,0L1.32,0","symbolStrokeWidth":10,"symbolSize":1444,"labelFont":"Liberation Sans","labelFontSize":24,"labelColor":"#FFFFFF","labelLimit":600,"labelOffset":21,"rowPadding":0,"encode":{"symbols":{"update":{"strokeCap":{"value":"round"},"fill":{"value":"transparent"}}}}}}}},
 {"transform":[{"filter":"datum.m=='201905' && datum.s=='Malmö region'"}],"mark":{"type":"text","align":"left","baseline":"middle","dx":23,"dy":2,"font":"Liberation Sans","fontSize":24,"color":"#FFFFFF"},"encoding":{"text":{"field":"v","format":".1%"}}},
 {"transform":[{"filter":"datum.m=='201905' && datum.s=='Sweden excl. metro regions'"}],"mark":{"type":"text","align":"left","baseline":"middle","dx":13,"dy":0,"font":"Liberation Sans","fontSize":24,"color":"#FFFFFF"},"encoding":{"text":{"field":"v","format":".1%"}}},
 {"transform":[{"filter":"datum.m=='201905' && datum.s=='Sweden'"}],"mark":{"type":"text","align":"left","baseline":"middle","dx":13,"dy":9,"font":"Liberation Sans","fontSize":24,"color":"#FFFFFF"},"encoding":{"text":{"field":"v","format":".1%"}}},
 {"transform":[{"filter":"datum.m=='201905' && datum.s=='Stockholm region'"}],"mark":{"type":"text","align":"left","baseline":"middle","dx":16,"dy":-1,"font":"Liberation Sans","fontSize":24,"color":"#FFFFFF"},"encoding":{"text":{"field":"v","format":".1%"}}},
 {"transform":[{"filter":"datum.m=='201905' && datum.s=='Gothenburg region'"}],"mark":{"type":"text","align":"left","baseline":"middle","dx":24,"dy":0,"font":"Liberation Sans","fontSize":24,"color":"#FFFFFF"},"encoding":{"text":{"field":"v","format":".1%"}}}
]
}
